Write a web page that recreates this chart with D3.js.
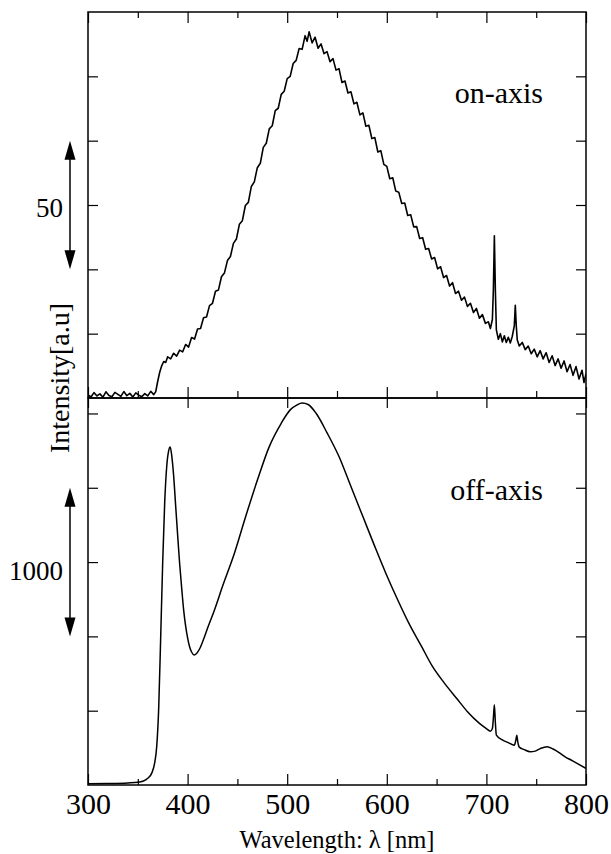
<!DOCTYPE html>
<html>
<head>
<meta charset="utf-8">
<script src="https://cdn.jsdelivr.net/npm/d3@7"></script>
<style>
  body { margin: 0; background: #fff; }
  text { font-family: 'Liberation Serif', 'Times New Roman', serif; fill: #000; }
</style>
</head>
<body>
<svg width="611" height="854"></svg>
<script>
// on-axis spectrum (upper panel), [wavelength nm, intensity a.u.]
const onAxis = [
    [300, 1.2], [303, 0.4], [306, 2.1], [309, 0.8], [312, 1.6], [315, 0.3], [318, 2.4], [321, 1.0],
    [324, 0.5], [327, 2.2], [330, 1.4], [333, 0.6], [336, 2.5], [339, 0.9], [342, 1.8], [345, 0.4],
    [348, 2.0], [351, 1.1], [354, 0.5], [357, 1.7], [360, 0.8], [363, 2.6], [366, 1.3], [368, 2.5],
    [370, 6.5], [372, 10], [374, 12.5], [376, 14.2], [378, 13.8], [380, 16.0], [383, 15.2], [386, 17.4],
    [389, 16.3], [392, 18.6], [395, 17.9], [398, 20.8], [401, 19.8], [404, 23.5], [407, 22.9], [410, 26.8],
    [413, 27.0], [416, 31.2], [419, 31.5], [422, 35.9], [425, 36.8], [428, 41.5], [431, 42.0], [434, 47.1],
    [437, 48.6], [440, 53.4], [443, 55.0], [446, 60.1], [449, 61.8], [452, 67.5], [455, 68.9], [458, 74.8],
    [461, 76.0], [464, 82.2], [467, 84.0], [470, 89.5], [473, 91.2], [476, 97.4], [479, 99.0], [482, 104.6],
    [485, 105.8], [488, 111.7], [491, 112.6], [494, 118.0], [497, 119.2], [500, 124.1], [503, 125.0], [506, 130.0],
    [509, 131.2], [512, 135.8], [515, 135.5], [518, 140.8], [520, 138.6], [522, 142.3], [525, 138.0], [528, 140.2],
    [531, 135.9], [534, 137.6], [537, 133.8], [540, 134.6], [543, 130.7], [546, 131.9], [549, 127.4], [552, 128.0],
    [555, 122.6], [558, 123.2], [561, 118.5], [564, 119.0], [567, 114.3], [570, 114.9], [573, 110.0], [576, 110.8],
    [579, 105.6], [582, 106.0], [585, 100.8], [588, 101.2], [591, 95.6], [594, 96.1], [597, 90.8], [600, 90.0],
    [603, 85.2], [606, 85.6], [609, 80.4], [612, 80.0], [615, 75.6], [618, 75.8], [621, 70.9], [624, 71.2],
    [627, 66.5], [630, 66.6], [633, 62.0], [636, 62.3], [639, 57.8], [642, 58.1], [645, 54.0], [648, 54.6],
    [651, 50.2], [654, 51.0], [657, 46.8], [660, 47.6], [663, 43.5], [666, 44.8], [669, 40.6], [672, 41.5],
    [675, 38.0], [678, 39.2], [681, 35.6], [684, 36.8], [687, 33.2], [690, 34.8], [693, 31.0], [696, 32.4],
    [699, 29.0], [702, 29.6], [704, 27.0], [706, 30.5], [707, 42], [708, 63], [709, 42], [710, 26.5],
    [712, 22.8], [714, 25.0], [716, 21.8], [718, 24.2], [720, 21.6], [722, 23.6], [724, 21.4], [726, 24.0],
    [728, 28], [729, 36], [730, 28], [731, 22.5], [733, 20.2], [736, 21.6], [739, 18.8], [742, 20.2],
    [745, 17.2], [748, 19.0], [751, 16.0], [754, 18.4], [757, 15.2], [760, 17.6], [763, 13.8], [766, 16.4],
    [769, 12.6], [772, 15.2], [775, 11.6], [778, 14.4], [781, 10.2], [784, 13.0], [787, 8.8], [790, 12.2],
    [793, 7.4], [796, 10.8], [798, 6.0], [800, 9.5]
];

// off-axis spectrum (lower panel)
const offAxis = [
    [300, 8], [320, 10], [340, 14], [350, 18], [355, 25], [360, 45], [364, 80], [367, 150],
    [369, 260], [371, 520], [373, 1000], [375, 1500], [377, 1900], [379, 2140], [381, 2250], [382.5, 2275],
    [384, 2220], [386, 2080], [388, 1880], [390, 1680], [392, 1490], [394, 1330], [396, 1180], [398, 1070],
    [400, 990], [402, 930], [404, 895], [406.5, 875], [409, 885], [412, 915], [416, 980], [420, 1055],
    [427, 1178], [435, 1335], [447, 1559], [458, 1800], [470, 2050], [482, 2277], [494, 2434], [503, 2524],
    [510, 2558], [515, 2570], [521, 2560], [529, 2501], [540, 2370], [552, 2210], [564, 2008], [576, 1806],
    [588, 1604], [599, 1425], [611, 1245], [623, 1077], [635, 931], [646, 796], [658, 684], [670, 584],
    [681, 493], [693, 415], [700, 380], [704, 362], [706, 380], [707, 450], [708, 540], [709, 420],
    [710, 335], [716, 303], [722, 285], [728, 268], [729.5, 300], [730.5, 335], [731.5, 290], [733, 255],
    [738, 238], [744, 224], [749, 228], [754, 245], [761, 258], [767, 242], [773, 218], [779, 190],
    [785, 168], [791, 146], [800, 112]
];

const xTicks = [300, 400, 500, 600, 700, 800];
const xMinorTicks = [350, 450, 550, 650, 750];
const onAxisTicks = [25, 50, 75, 100, 125];
const offAxisTicks = [500, 1000, 1500, 2000, 2500];
const onAxisBar = [50, 100];
const offAxisBar = [1000, 2000];

const left = 88, right = 586;
const top1 = 12, mid = 398, bottom = 785;

const svg = d3.select('svg');

const x = d3.scaleLinear().domain([300, 800]).range([left, right]);
const yOn = d3.scaleLinear().domain([0, 150]).range([mid, top1]);
const yOff = d3.scaleLinear().domain([0, 2604]).range([bottom, mid]);

svg.append('clipPath').attr('id', 'clipOn')
    .append('rect').attr('x', left).attr('y', top1).attr('width', right - left).attr('height', mid - top1);
svg.append('clipPath').attr('id', 'clipOff')
    .append('rect').attr('x', left).attr('y', mid).attr('width', right - left).attr('height', bottom - mid);

// spectra
svg.append('path')
    .datum(onAxis)
    .attr('clip-path', 'url(#clipOn)')
    .attr('fill', 'none')
    .attr('stroke', '#000')
    .attr('stroke-width', 1.6)
    .attr('stroke-linejoin', 'round')
    .attr('d', d3.line()
        .x(function (d) { return x(d[0]); })
        .y(function (d) { return yOn(d[1]); }));

svg.append('path')
    .datum(offAxis)
    .attr('clip-path', 'url(#clipOff)')
    .attr('fill', 'none')
    .attr('stroke', '#000')
    .attr('stroke-width', 1.5)
    .attr('d', d3.line()
        .curve(d3.curveMonotoneX)
        .x(function (d) { return x(d[0]); })
        .y(function (d) { return yOff(d[1]); }));

// ticks, all pointing inward
function tickAxis(axis, tx, ty) {
    const g = svg.append('g')
        .attr('transform', 'translate(' + tx + ',' + ty + ')')
        .call(axis.tickSizeOuter(0));
    g.select('.domain').remove();
    g.selectAll('.tick line').attr('stroke', '#000').attr('stroke-width', 1.2);
    return g;
}
const none = function () { return ''; };

// upper panel
tickAxis(d3.axisTop(x).tickValues(xTicks).tickSize(-11).tickFormat(none), 0, top1);
tickAxis(d3.axisTop(x).tickValues(xMinorTicks).tickSize(-6).tickFormat(none), 0, top1);
tickAxis(d3.axisBottom(x).tickValues(xTicks).tickSize(-11).tickFormat(none), 0, mid);
tickAxis(d3.axisBottom(x).tickValues(xMinorTicks).tickSize(-7).tickFormat(none), 0, mid);
tickAxis(d3.axisLeft(yOn).tickValues(onAxisTicks).tickSize(-10).tickFormat(none), left, 0);
tickAxis(d3.axisRight(yOn).tickValues(onAxisTicks).tickSize(-10).tickFormat(none), right, 0);

// lower panel
tickAxis(d3.axisTop(x).tickValues(xTicks).tickSize(-10).tickFormat(none), 0, mid);
tickAxis(d3.axisLeft(yOff).tickValues(offAxisTicks).tickSize(-10).tickFormat(none), left, 0);
tickAxis(d3.axisRight(yOff).tickValues(offAxisTicks).tickSize(-10).tickFormat(none), right, 0);
tickAxis(d3.axisBottom(x).tickValues(xMinorTicks).tickSize(-6).tickFormat(none), 0, bottom);
const xAxis = tickAxis(d3.axisBottom(x).tickValues(xTicks).tickSize(-11).tickPadding(8), 0, bottom);
xAxis.selectAll('text')
    .attr('font-size', 30)
    .attr('font-family', "'Liberation Serif', serif")
    .attr('fill', '#000');

// frames
[[top1, mid], [mid, bottom]].forEach(function (p) {
    svg.append('rect')
        .attr('x', left).attr('y', p[0])
        .attr('width', right - left).attr('height', p[1] - p[0])
        .attr('fill', 'none')
        .attr('stroke', '#000')
        .attr('stroke-width', 1.5);
});

// scale bars with arrows
function scaleBar(y, span, label, labelY) {
    const ax = 70;
    const y1 = y(span[1]), y2 = y(span[0]);
    svg.append('line')
        .attr('x1', ax).attr('x2', ax)
        .attr('y1', y1 + 10).attr('y2', y2 - 10)
        .attr('stroke', '#000').attr('stroke-width', 1.5);
    svg.append('path')
        .attr('d', 'M' + ax + ',' + y1 + 'L' + (ax - 5.5) + ',' + (y1 + 19) + 'L' + (ax + 5.5) + ',' + (y1 + 19) + 'Z')
        .attr('fill', '#000');
    svg.append('path')
        .attr('d', 'M' + ax + ',' + y2 + 'L' + (ax - 5.5) + ',' + (y2 - 19) + 'L' + (ax + 5.5) + ',' + (y2 - 19) + 'Z')
        .attr('fill', '#000');
    svg.append('text')
        .attr('x', 63).attr('y', labelY)
        .attr('text-anchor', 'end')
        .attr('font-size', 27)
        .text(label);
}
scaleBar(yOn, onAxisBar, '50', 217);
scaleBar(yOff, offAxisBar, '1000', 580);

// labels
svg.append('text')
    .attr('x', 543).attr('y', 103)
    .attr('text-anchor', 'end')
    .attr('font-size', 30)
    .text('on-axis');

svg.append('text')
    .attr('x', 543).attr('y', 500)
    .attr('text-anchor', 'end')
    .attr('font-size', 30)
    .text('off-axis');

svg.append('text')
    .attr('transform', 'translate(69,378) rotate(-90)')
    .attr('text-anchor', 'middle')
    .attr('font-size', 28)
    .text('Intensity[a.u]');

svg.append('text')
    .attr('x', (left + right) / 2).attr('y', 848)
    .attr('text-anchor', 'middle')
    .attr('font-size', 24.5)
    .text('Wavelength: \u03bb [nm]');
</script>
</body>
</html>
